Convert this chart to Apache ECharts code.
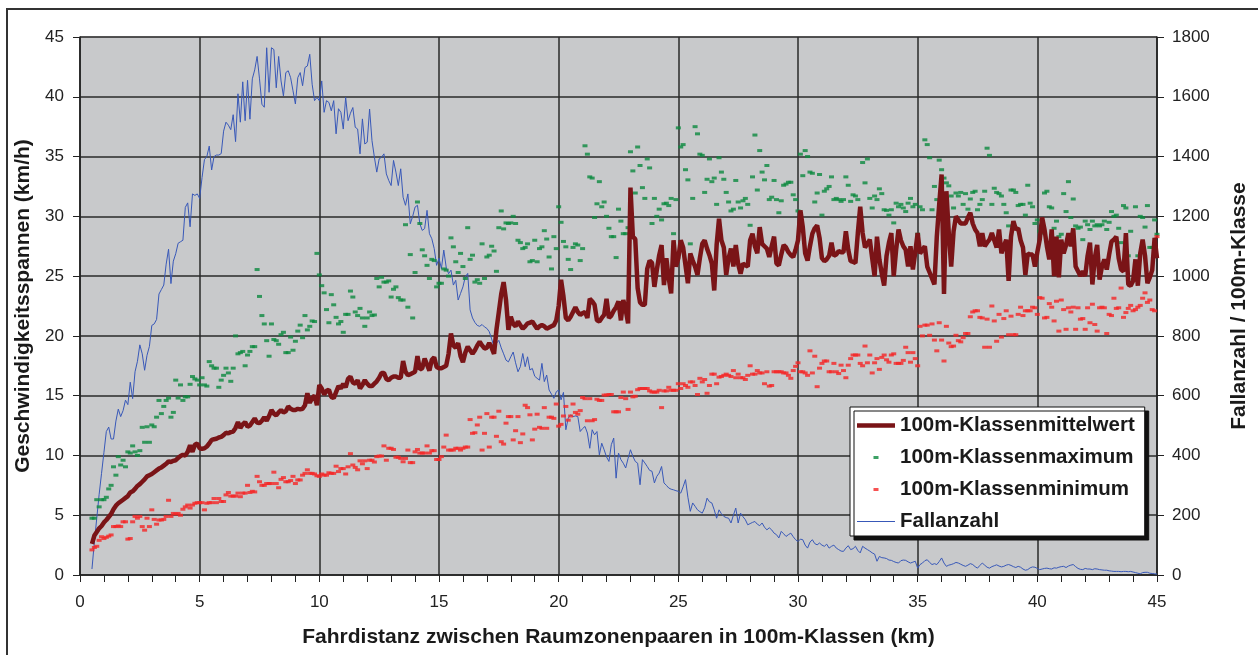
<!DOCTYPE html>
<html>
<head>
<meta charset="utf-8">
<title>Geschwindigkeitsspannen</title>
<script src="https://cdn.jsdelivr.net/npm/echarts@6/dist/echarts.min.js"></script>
<style>
    body { margin: 0; background: #fff; }
    #main { width: 1258px; height: 655px; }
</style>
</head>
<body>
<div id="main"></div>
<script>
// 100m-Klassen von 0,5 km bis 45,0 km
var distKm = [];
for (var k = 5; k <= 450; k++) {
    distKm.push(k / 10);
}

// Klassenmittelwert (km/h), eine Zeile pro km (erste Zeile 0.5-0.9)
var mittelwert = [
    2.6, 3.3, 3.6, 3.9, 4.1,
    4.4, 4.6, 4.85, 5.1, 5.5, 5.8, 6.0, 6.15, 6.3, 6.45,
    6.6, 6.9, 7.0, 7.2, 7.45, 7.6, 7.8, 8.0, 8.25, 8.35,
    8.45, 8.6, 8.75, 8.9, 9.0, 9.15, 9.3, 9.5, 9.45, 9.55,
    9.6, 9.8, 9.95, 10.05, 10.0, 10.3, 10.85, 10.3, 10.9, 11.0,
    10.6, 10.55, 10.6, 10.75, 11.0, 11.3, 11.35, 11.4, 11.5, 11.55,
    11.7, 11.9, 11.85, 11.95, 12.0, 12.3, 12.8, 12.3, 12.6, 12.8,
    12.4, 12.5, 12.8, 13.1, 12.75, 12.7, 12.9, 13.2, 12.9, 13.3,
    13.8, 13.5, 13.35, 13.6, 13.8, 13.6, 13.7, 14.1, 13.9, 13.8,
    13.8, 13.9, 13.85, 13.9, 14.2, 15.2, 14.4, 14.8, 15.0, 14.2,
    15.9, 15.6, 15.1, 15.4, 15.5, 14.9, 14.8, 15.3, 15.8, 15.6,
    16.0, 15.7, 16.4, 16.6, 16.1, 16.0, 16.3, 15.6, 15.9, 16.3,
    16.0, 15.8, 15.8, 16.0, 16.2, 16.5, 16.9, 16.9, 16.4, 16.3,
    16.5, 16.6, 16.6, 16.5, 16.5, 17.9, 17.0, 16.7, 16.8, 16.9,
    17.0, 18.3, 17.2, 17.3, 18.1, 17.6, 17.1, 18.0, 18.2, 17.4,
    17.3, 17.3, 17.4, 17.5, 18.5, 20.2, 19.2, 19.0, 19.4, 18.3,
    17.8, 18.6, 19.1, 18.8, 18.5, 18.8, 19.2, 19.5, 19.2, 18.95,
    19.0, 19.4, 19.0, 18.5, 20.5, 22.0, 23.5, 24.5, 23.0, 20.5,
    21.6, 21.0, 20.8, 21.2, 20.9, 20.6, 20.8, 21.05, 21.1, 21.2,
    20.9, 20.6, 20.8, 20.9, 20.8, 20.6, 20.7, 20.8, 20.9, 21.3,
    22.5, 24.7, 23.3, 21.5, 21.3, 21.6, 22.0, 22.4, 22.0, 21.75,
    21.9, 22.0, 21.5, 23.1, 22.9, 22.6, 21.3, 21.2, 21.5, 21.75,
    23.1, 21.5, 21.7, 22.1, 22.4, 22.9, 21.3, 23.0, 22.2, 21.05,
    32.4, 28.3, 28.1, 24.0, 22.8, 22.6, 22.6, 25.6, 26.3, 26.1,
    24.1, 25.5, 26.75, 27.6, 24.25, 26.5, 24.8, 23.55, 28.0, 25.8,
    26.5, 28.0, 27.4, 25.9, 24.4, 26.9, 26.3, 25.8, 25.1, 26.5,
    27.7, 28.0, 27.3, 26.75, 26.05, 23.8, 27.6, 29.8, 28.0, 27.4,
    25.1, 26.5, 27.3, 25.8, 27.6, 26.0, 25.2, 26.05, 25.9, 25.8,
    28.0, 28.55, 27.5, 26.9, 29.1, 27.7, 27.5, 27.3, 26.6, 27.5,
    28.3, 26.05, 25.9, 26.8, 27.6, 27.4, 27.0, 26.75, 26.6, 27.2,
    28.0, 30.5, 29.1, 26.9, 26.3, 27.5, 28.55, 29.0, 29.25, 28.2,
    26.5, 26.25, 26.4, 26.7, 27.8, 26.7, 26.8, 27.1, 27.0, 27.0,
    28.75, 27.2, 26.25, 26.2, 26.1, 28.6, 30.8, 28.6, 27.4, 27.7,
    28.05, 26.5, 25.0, 28.3, 26.4, 25.2, 24.2, 26.7, 27.8, 28.6,
    25.0, 27.2, 28.9, 28.0, 27.5, 27.2, 25.8, 27.5, 25.55, 27.0,
    28.6, 26.9, 27.2, 27.5, 25.8, 25.3, 24.8, 24.3, 28.3, 31.0,
    33.5, 23.5, 32.1, 28.6, 25.8, 28.75, 30.0, 29.7, 29.4, 29.4,
    29.4, 29.9, 30.3, 29.4, 28.9, 28.6, 27.5, 28.6, 27.5, 27.8,
    28.05, 28.6, 28.0, 27.4, 28.9, 26.9, 27.5, 28.05, 24.6, 28.3,
    29.6, 28.9, 29.0, 28.0, 27.4, 25.1, 26.9, 26.8, 26.8, 25.8,
    27.0, 28.05, 29.9, 28.9, 27.5, 26.4, 28.9, 25.0, 28.3, 24.9,
    28.05, 26.9, 27.6, 28.6, 27.5, 29.0, 25.8, 25.4, 25.0, 25.4,
    25.0, 26.7, 27.8, 24.3, 26.5, 27.6, 24.7, 25.8, 26.4, 25.55,
    26.8, 27.9, 28.05, 28.3, 26.5, 25.55, 25.4, 28.6, 24.3, 24.2,
    24.6, 26.4, 24.2, 26.9, 28.05, 26.7, 24.4, 24.9, 25.5, 28.2,
    26.5
];

// Klassenmaximum (km/h)
var maximum = [
    4.75, 4.75, 6.3, 5.7, 6.3,
    6.3, 6.5, 7.2, 7.5, 9.05, 8.35, 9.9, 9.2, 9.6, 9.05,
    10.3, 10.2, 10.8, 10.3, 10.0, 10.4, 12.35, 11.1, 12.4, 11.1,
    12.55, 12.4, 13.2, 14.6, 13.5, 14.1, 14.6, 14.8, 13.2, 13.6,
    16.3, 14.8, 15.9, 14.6, 14.9, 14.9, 15.95, 16.6, 16.4, 16.3,
    15.9, 16.5, 15.9, 15.8, 17.85, 17.5, 17.3, 17.3, 15.7, 16.3,
    16.7, 17.3, 16.9, 16.2, 17.3, 20.0, 18.5, 18.6, 18.7, 17.5,
    18.4, 18.7, 19.1, 19.1, 25.55, 23.3, 21.7, 21.0, 19.6, 18.3,
    21.0, 19.7, 19.6, 19.3, 20.1, 20.3, 18.6, 18.6, 19.9, 18.8,
    19.55, 20.4, 20.9, 19.85, 21.7, 20.5, 20.8, 21.25, 21.2, 26.9,
    25.1, 24.2, 23.6, 22.2, 21.1, 23.45, 22.6, 21.55, 21.0, 21.2,
    20.3, 21.8, 21.8, 23.75, 23.25, 22.0, 21.7, 22.3, 21.5, 20.8,
    21.5, 22.0, 21.7, 21.75, 24.8, 24.1, 24.9, 24.5, 24.5, 24.6,
    23.25, 23.9, 24.1, 23.2, 23.0, 23.0, 29.3, 22.4, 26.8, 21.5,
    25.3, 31.2, 29.4, 27.2, 26.7, 25.9, 24.8, 26.4, 26.3, 24.1,
    24.4, 24.4, 25.6, 25.5, 25.0, 28.2, 27.45, 26.2, 25.3, 26.9,
    25.8, 24.8, 29.05, 26.4, 26.75, 24.5, 24.7, 24.4, 27.7, 24.8,
    26.6, 26.75, 27.5, 27.1, 25.4, 29.05, 30.45, 28.95, 29.45, 29.4,
    29.45, 30.0, 29.4, 28.0, 27.8, 27.3, 27.4, 27.7, 26.2, 26.3,
    28.0, 26.2, 27.3, 27.45, 28.8, 28.1, 26.6, 25.6, 28.3, 27.3,
    30.8, 29.5, 27.9, 27.45, 26.4, 25.55, 27.4, 27.7, 27.6, 26.3,
    27.3, 35.9, 35.2, 33.3, 33.2, 29.9, 31.05, 32.9, 30.8, 31.2,
    30.0, 29.0, 28.3, 28.3, 26.55, 30.6, 29.6, 28.55, 28.55, 29.05,
    35.4, 33.8, 31.95, 35.8, 34.25, 32.4, 31.5, 34.8, 34.05, 29.4,
    31.5, 30.0, 30.6, 29.7, 31.05, 31.1, 30.9, 31.5, 28.55, 31.4,
    37.4, 35.8, 36.0, 33.9, 33.05, 27.7, 31.5, 37.5, 36.9, 35.2,
    35.1, 32.0, 33.1, 34.8, 32.9, 33.2, 31.0, 34.9, 33.7, 33.1,
    32.0, 31.2, 30.45, 30.6, 33.0, 31.2, 30.7, 31.3, 31.5, 31.0,
    29.25, 33.3, 36.8, 32.2, 35.5, 33.7, 33.05, 34.25, 31.4, 31.6,
    33.0, 31.4, 30.3, 31.3, 32.6, 32.7, 32.85, 32.85, 31.8, 31.4,
    30.45, 35.2, 33.4, 35.5, 35.0, 33.7, 33.6, 31.2, 31.95, 33.5,
    30.1, 32.1, 32.3, 32.5, 33.3, 31.4, 31.5, 31.4, 31.25, 31.4,
    33.3, 32.6, 31.25, 31.8, 31.7, 31.4, 30.05, 34.5, 32.8, 34.8,
    31.5, 30.7, 31.7, 31.4, 32.3, 31.9, 30.55, 30.5, 30.1, 30.55,
    29.45, 31.1, 30.8, 31.0, 30.7, 30.4, 31.1, 31.5, 30.8, 31.0,
    28.5, 30.8, 30.55, 36.4, 36.0, 34.9, 30.55, 32.5, 31.4, 34.7,
    33.9, 33.2, 32.8, 32.55, 31.7, 30.7, 31.95, 31.7, 32.0, 31.0,
    31.9, 30.6, 31.45, 32.0, 32.1, 30.55, 31.0, 31.4, 32.1, 35.7,
    35.1, 31.0, 32.35, 32.0, 31.9, 31.7, 31.0, 30.3, 29.2, 32.2,
    32.2, 32.0, 30.9, 31.0, 31.0, 30.1, 32.6, 31.1, 30.8, 29.4,
    29.7, 28.75, 28.6, 31.95, 32.1, 30.8, 30.7, 29.0, 29.6, 28.3,
    28.5, 31.9, 30.4, 32.9, 29.9, 31.45, 29.2, 29.0, 29.1, 28.05,
    29.6, 29.3, 28.9, 29.6, 29.2, 29.3, 29.2, 29.3, 29.6, 28.9,
    29.5, 30.4, 30.0, 30.1, 29.0, 27.8, 30.9, 30.7, 26.7, 28.75,
    24.7, 30.8, 26.7, 30.0, 29.9, 29.1, 30.9, 27.4, 27.4, 29.7,
    28.5
];

// Klassenminimum (km/h)
var minimum = [
    2.1, 2.3, 2.4, 2.9, 3.2,
    3.05, 3.15, 3.25, 3.35, 4.05, 4.05, 4.1, 4.05, 4.45, 4.45,
    3.0, 3.05, 4.45, 4.9, 4.75, 4.9, 4.05, 3.75, 4.75, 4.05,
    5.45, 4.65, 4.25, 4.6, 4.6, 4.65, 4.9, 6.25, 4.9, 5.15,
    5.1, 5.15, 5.0, 5.5, 5.7, 5.85, 5.6, 5.85, 6.0, 6.05,
    6.05, 6.05, 5.45, 6.0, 6.05, 6.05, 6.4, 6.05, 6.4, 6.15,
    6.15, 6.7, 6.9, 6.6, 6.6, 6.6, 6.85, 6.55, 6.85, 6.85,
    7.5, 6.9, 7.0, 6.95, 8.25, 7.8, 7.5, 7.5, 7.65, 7.65,
    7.65, 8.6, 7.65, 7.3, 8.0, 8.15, 7.8, 7.8, 7.9, 8.25,
    7.65, 7.95, 7.95, 8.35, 8.5, 8.8, 8.5, 8.5, 8.45, 8.3,
    8.25, 8.45, 8.35, 8.35, 8.55, 8.5, 8.5, 9.1, 8.65, 8.9,
    8.9, 8.45, 9.05, 10.15, 9.2, 9.0, 8.8, 9.55, 9.3, 9.55,
    8.9, 9.6, 9.6, 9.45, 9.9, 9.95, 9.95, 10.8, 9.6, 10.6,
    10.6, 10.5, 9.85, 9.85, 9.75, 9.47, 9.75, 10.45, 9.4, 9.4,
    10.3, 10.5, 10.2, 10.2, 10.2, 10.8, 10.2, 10.4, 10.4, 9.66,
    9.66, 9.9, 10.7, 11.7, 10.45, 10.45, 10.45, 10.6, 10.6, 10.45,
    10.6, 10.7, 10.7, 13.0, 11.85, 11.9, 12.55, 13.2, 10.45, 11.85,
    13.5, 10.7, 13.2, 13.2, 11.6, 13.7, 11.15, 10.95, 12.7, 13.25,
    13.25, 11.3, 12.07, 13.25, 11.07, 11.8, 14.2, 14.0, 13.4, 11.3,
    12.2, 13.45, 12.35, 12.27, 14.0, 12.27, 13.2, 13.2, 13.1, 14.3,
    12.45, 12.6, 13.3, 14.1, 12.95, 13.3, 14.3, 13.6, 13.45, 13.75,
    14.85, 14.75, 12.9, 14.75, 12.9, 13.0, 14.7, 14.6, 14.6, 15.05,
    15.05, 15.1, 15.1, 13.65, 13.65, 13.65, 14.85, 15.3, 14.75, 13.85,
    15.3, 14.9, 14.95, 15.5, 15.6, 15.6, 15.6, 15.6, 15.4, 15.3,
    15.3, 15.3, 15.45, 14.0, 15.4, 15.4, 15.7, 15.45, 15.45, 15.45,
    16.0, 15.6, 16.0, 15.85, 15.7, 16.15, 16.15, 15.85, 15.1, 16.45,
    16.15, 16.35, 15.2, 15.85, 16.8, 16.8, 16.0, 16.55, 16.6, 16.7,
    16.8, 16.7, 16.6, 17.1, 16.5, 16.8, 16.5, 16.5, 16.35, 16.7,
    17.5, 16.8, 16.8, 17.1, 16.9, 16.9, 16.0, 17.0, 15.8, 15.85,
    17.0, 17.0, 17.0, 17.0, 16.9, 16.9, 16.7, 16.45, 17.1, 17.45,
    17.75, 17.0, 17.0, 16.9, 16.7, 18.75, 16.9, 18.3, 15.75, 17.3,
    17.7, 17.9, 17.9, 17.0, 17.0, 17.7, 17.0, 16.85, 17.55, 17.1,
    16.5, 17.55, 18.1, 18.4, 18.4, 18.4, 17.7, 17.5, 19.15, 17.75,
    18.4, 16.9, 17.75, 18.1, 17.2, 18.2, 18.4, 18.0, 17.8, 18.4,
    18.5, 17.7, 17.7, 17.7, 17.95, 19.05, 18.6, 17.8, 18.6, 18.1,
    17.5, 20.8, 20.0, 20.9, 20.9, 20.05, 21.0, 19.65, 18.75, 21.1,
    19.65, 17.9, 20.8, 19.4, 19.1, 19.15, 20.05, 19.6, 19.5, 19.85,
    20.2, 20.2, 21.6, 22.0, 22.1, 22.1, 21.55, 21.5, 19.05, 21.4,
    19.05, 22.5, 21.25, 19.55, 21.8, 19.9, 21.45, 22.1, 20.1, 21.65,
    20.1, 20.1, 21.8, 22.4, 21.7, 22.1, 22.1, 22.1, 22.4, 22.35,
    21.8, 23.2, 23.15, 21.5, 21.55, 22.7, 22.4, 21.25, 22.9, 20.4,
    23.0, 22.2, 20.55, 22.35, 22.0, 22.4, 20.55, 22.35, 21.4, 21.45,
    20.55, 22.35, 21.1, 22.65, 20.95, 20.4, 22.35, 22.4, 22.35, 20.2,
    21.8, 21.7, 23.15, 22.3, 22.35, 24.0, 21.55, 21.95, 22.3, 22.55,
    22.1, 22.2, 22.4, 22.55, 23.15, 23.6, 22.8, 23.0, 22.2, 22.1,
    28.3
];

// Fallanzahl je 100m-Klasse (rechte Achse)
var fallanzahl = [
    20, 110, 190, 270, 340,
    410, 480, 495, 455, 455, 515, 555, 530, 550, 585,
    570, 645, 590, 680, 715, 770, 740, 685, 735, 765,
    835, 840, 855, 940, 955, 970, 1040, 1090, 975, 1050,
    1075, 1110, 1115, 1120, 1230, 1245, 1165, 1275, 1270, 1275,
    1260, 1330, 1390, 1400, 1435, 1355, 1400, 1405, 1405, 1410,
    1485, 1515, 1505, 1490, 1540, 1450, 1610, 1515, 1650, 1520,
    1655, 1525, 1660, 1690, 1735, 1660, 1575, 1565, 1764, 1615,
    1764, 1758, 1630, 1735, 1653, 1603, 1681, 1687, 1664, 1620,
    1576, 1664, 1681, 1637, 1698, 1703, 1742, 1642, 1587, 1598,
    1587, 1653, 1548, 1587, 1581, 1553, 1587, 1476, 1560, 1548,
    1492, 1598, 1520, 1545, 1564, 1498, 1492, 1409, 1526, 1442,
    1448, 1559, 1453, 1398, 1348, 1392, 1398, 1409, 1342, 1320,
    1303, 1387, 1348, 1303, 1359, 1264, 1237, 1275, 1175, 1200,
    1231, 1237, 1175, 1153, 1159, 1220, 1142, 1125, 1092, 1036,
    1060, 1025, 1087, 1030, 1008, 1020, 970, 986, 920, 942,
    964, 998, 1009, 887, 860, 845, 835, 832, 838, 830,
    825, 814, 790, 763, 775, 785, 760, 740, 719, 713,
    730, 746, 710, 680, 697, 741, 697, 730, 686, 691,
    665, 658, 652, 708, 647, 669, 619, 605, 591, 613,
    619, 586, 611, 486, 525, 536, 530, 532, 530, 480,
    490, 497, 475, 424, 486, 469, 480, 402, 441, 419,
    395, 380, 436, 458, 324, 408, 386, 374, 358, 390,
    419, 397, 380, 374, 302, 386, 375, 363, 350, 347,
    308, 330, 341, 363, 308, 300, 291, 287, 285, 282,
    280, 274, 295, 319, 260, 213, 241, 230, 218, 212,
    207, 225, 257, 245, 241, 218, 190, 218, 205, 196,
    192, 190, 174, 200, 224, 174, 207, 195, 185, 168,
    172, 176, 179, 170, 165, 174, 160, 151, 158, 151,
    140, 135, 124, 146, 138, 129, 135, 140, 128, 118,
    112, 120, 118, 100, 90, 110, 118, 105, 101, 107,
    100, 96, 103, 90, 96, 100, 90, 85, 80, 79,
    90, 98, 85, 88, 96, 82, 74, 96, 90, 85,
    80, 74, 70, 46, 62, 58, 57, 55, 50, 49,
    45, 42, 40, 48, 50, 49, 44, 40, 43, 46,
    23, 35, 40, 48, 51, 42, 35, 38, 35, 45,
    57, 40, 29, 33, 35, 38, 42, 40, 36, 32,
    29, 33, 38, 35, 28, 23, 32, 40, 33, 26,
    23, 28, 31, 34, 30, 27, 29, 33, 35, 32,
    28, 25, 29, 26, 20, 16, 18, 24, 27, 26,
    22, 18, 20, 22, 23, 21, 20, 24, 23, 26,
    28, 29, 25, 30, 33, 35, 28, 22, 19, 18,
    22, 20, 20, 18, 21, 20, 18, 17, 16, 16,
    14, 13, 12, 12, 12, 11, 12, 12, 11, 12,
    10, 8, 6, 4, 8, 9, 9, 6, 5, 4,
    3
];

function toPairs(values) {
    return values.map(function (v, i) {
        return [distKm[i], v];
    });
}

var fontName = '"Liberation Sans", Arial, sans-serif';
// Legendensymbole: die zwei Eckpunkte halten die volle 38x14-Flaeche
var dashIcon = 'path://M0 0h0.01M38 14h0.01M16.5 5.5h5v3h-5z';
var thickLineIcon = 'path://M0 0h0.01M38 14h0.01M0 4.75h38v4.5h-38z';
var thinLineIcon = 'path://M0 0h0.01M38 14h0.01M0 6.5h38v1h-38z';

var myChart = echarts.init(document.getElementById('main'));
var options = {
    animation: false,
    textStyle: { fontFamily: fontName },
    graphic: [{
        type: 'rect',
        silent: true,
        shape: { x: 7, y: 9, width: 1300, height: 700 },
        style: { fill: 'none', stroke: '#333', lineWidth: 2 }
    }],
    grid: {
        left: 80, right: 100, top: 37, bottom: 80,
        show: true,
        backgroundColor: '#c8c9cb',
        borderColor: '#a5a5a5',
        borderWidth: 1
    },
    legend: {
        orient: 'vertical',
        left: 850, top: 407,
        padding: [8, 10, 4, 7],
        itemWidth: 38, itemHeight: 14,
        itemGap: 11,
        backgroundColor: '#fff',
        borderColor: '#111', borderWidth: 1,
        shadowColor: '#111', shadowOffsetX: 4, shadowOffsetY: 4, shadowBlur: 0,
        textStyle: { fontSize: 20.5, fontWeight: 'bold', color: '#1a1a1a', fontFamily: fontName },
        data: [
            { name: '100m-Klassenmittelwert', icon: thickLineIcon },
            { name: '100m-Klassenmaximum', icon: dashIcon },
            { name: '100m-Klassenminimum', icon: dashIcon },
            { name: 'Fallanzahl', icon: thinLineIcon }
        ]
    },
    xAxis: {
        type: 'value',
        min: 0, max: 45, interval: 5,
        name: 'Fahrdistanz zwischen Raumzonenpaaren in 100m-Klassen (km)',
        nameLocation: 'middle',
        nameGap: 52,
        nameTextStyle: { fontSize: 21, fontWeight: 'bold', color: '#1a1a1a' },
        axisLine: { lineStyle: { color: '#222', width: 1.5 } },
        axisTick: { length: 7, lineStyle: { color: '#222' } },
        minorTick: { show: true, splitNumber: 5, length: 7, lineStyle: { color: '#222' } },
        splitLine: { show: true, lineStyle: { color: '#2a2a2a', width: 1.5 } },
        axisLabel: { fontSize: 17, color: '#222', margin: 19 }
    },
    yAxis: [{
        type: 'value',
        min: 0, max: 45, interval: 5,
        name: 'Geschwindigkeitsspannen (km/h)',
        nameLocation: 'middle',
        nameRotate: 90,
        nameGap: 44,
        nameTextStyle: { fontSize: 21, fontWeight: 'bold', color: '#1a1a1a' },
        axisLine: { show: true, lineStyle: { color: '#222', width: 1.5 } },
        axisTick: { show: true, length: 7, lineStyle: { color: '#222' } },
        splitLine: { show: true, lineStyle: { color: '#2a2a2a', width: 1.5 } },
        axisLabel: { fontSize: 17, color: '#222', margin: 16 }
    }, {
        type: 'value',
        position: 'right',
        min: 0, max: 1800, interval: 200,
        name: 'Fallanzahl / 100m-Klasse',
        nameLocation: 'middle',
        nameRotate: 90,
        nameGap: 72,
        nameTextStyle: { fontSize: 21, fontWeight: 'bold', color: '#1a1a1a' },
        axisLine: { show: true, lineStyle: { color: '#222', width: 1.5 } },
        axisTick: { show: true, length: 7, lineStyle: { color: '#222' } },
        splitLine: { show: false },
        axisLabel: {
            fontSize: 17, color: '#222', margin: 15,
            formatter: function (value) { return String(value); }
        }
    }],
    series: [{
        name: 'Fallanzahl',
        type: 'line',
        yAxisIndex: 1,
        data: toPairs(fallanzahl),
        symbol: 'none',
        lineStyle: { color: '#3858b8', width: 1 },
        itemStyle: { color: '#3858b8' },
        z: 2
    }, {
        name: '100m-Klassenmaximum',
        type: 'scatter',
        data: toPairs(maximum),
        symbol: 'rect',
        symbolSize: [5, 3],
        itemStyle: { color: '#0b8a3e' },
        z: 3
    }, {
        name: '100m-Klassenminimum',
        type: 'scatter',
        data: toPairs(minimum),
        symbol: 'rect',
        symbolSize: [5, 3],
        itemStyle: { color: '#f52525' },
        z: 3
    }, {
        name: '100m-Klassenmittelwert',
        type: 'line',
        data: toPairs(mittelwert),
        symbol: 'none',
        lineStyle: { color: '#7a1417', width: 4.5 },
        itemStyle: { color: '#7a1417' },
        z: 4
    }]
};
myChart.setOption(options);
</script>
</body>
</html>
